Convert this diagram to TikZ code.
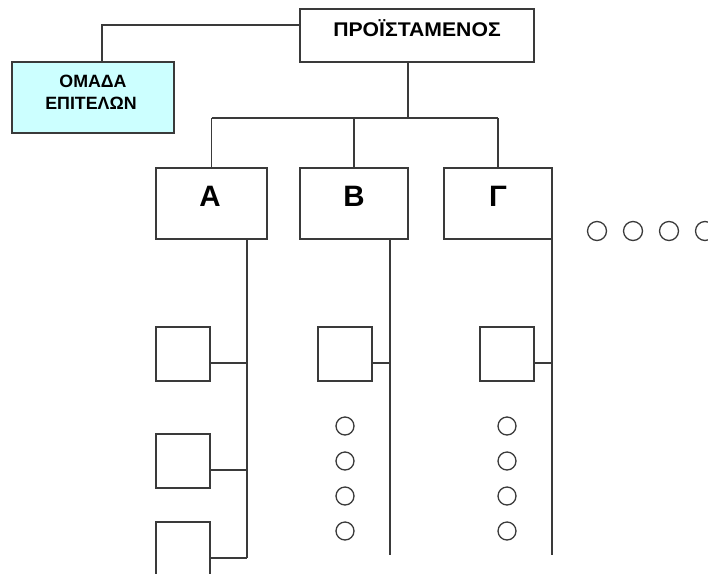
\documentclass[tikz,border=0pt]{standalone}
\usepackage{fontspec}
\setmainfont{Liberation Sans}
\newfontfamily\titlefont[FakeStretch=1.07]{Liberation Sans}
\definecolor{linec}{HTML}{3A3A3A}
\definecolor{cyanfill}{HTML}{CCFFFF}
\begin{document}
\begin{tikzpicture}[x=1pt,y=-1pt,
  ln/.style={draw=linec, line width=1.3pt},
  box/.style={ln, rectangle, inner sep=0pt, outer sep=0pt, anchor=north west, fill=white},
  dotc/.style={ln, circle, inner sep=0pt, outer sep=0pt, minimum size=18pt},
  lbl/.style={anchor=base, inner sep=0pt, text=black}]
\useasboundingbox (0,0) rectangle (708,573);
\fill[white] (0,0) rectangle (708,573);
\clip (0,0) rectangle (708,573);

% main boxes
\node[box, minimum width=234pt, minimum height=53pt] (top) at (300,9) {};
\node[box, fill=cyanfill, minimum width=162pt, minimum height=71pt] (omada) at (12,62) {};
\node[box, minimum width=111pt, minimum height=71pt] (A) at (156,168) {};
\node[box, minimum width=108pt, minimum height=71pt] (B) at (300,168) {};
\node[box, minimum width=108pt, minimum height=71pt] (G) at (444,168) {};

% texts
\node[lbl, font=\titlefont\bfseries\fontsize{19.8}{23}\selectfont] (ttop) at (417,36) {ΠΡΟΪΣΤΑΜΕΝΟΣ};
\node[lbl, font=\bfseries\fontsize{17.8}{21}\selectfont] (tom1) at (93,87) {ΟΜΑΔΑ};
\node[lbl, font=\bfseries\fontsize{17.8}{21}\selectfont] (tom2) at (91,109) {ΕΠΙΤΕΛΩΝ};
\node[lbl, font=\bfseries\fontsize{29.5}{34}\selectfont] (tA) at (210,206) {Α};
\node[lbl, font=\bfseries\fontsize{29.5}{34}\selectfont] (tB) at (354,206) {Β};
\node[lbl, font=\bfseries\fontsize{29.5}{34}\selectfont] (tG) at (498,206) {Γ};

% sub boxes
\node[box, minimum size=54pt] (a1) at (156,327) {};
\node[box, minimum size=54pt] (a2) at (156,434) {};
\node[box, minimum size=54pt] (a3) at (156,522) {};
\node[box, minimum size=54pt] (b1) at (318,327) {};
\node[box, minimum size=54pt] (g1) at (480,327) {};

% circles
\foreach \y [count=\i] in {426,461,496,531} {
  \node[dotc] (bc\i) at (345,\y) {};
  \node[dotc] (gc\i) at (507,\y) {};
}
\foreach \x [count=\i] in {597,633,669,705} {
  \node[dotc, minimum size=19pt] (rc\i) at (\x,231) {};
}

% coordinates
\coordinate (j0) at (102,25);
\coordinate (t0) at (408,62);
\coordinate (bus) at (408,118);
\coordinate (aTop) at (247,239);
\coordinate (aBot) at (247,558);
\coordinate (bTop) at (390,239);
\coordinate (bBot) at (390,555);
\coordinate (gBot) at (552,555);

% connectors
\draw[ln] (j0 -| top.west) -- (j0) -- (j0 |- omada.north);
\draw[ln] (t0) -- (bus);
\draw[ln] (A.north |- bus) -- (G.north |- bus);
\draw[ln] (A.north |- bus) -- (A.north);
\draw[ln] (B.north |- bus) -- (B.north);
\draw[ln] (G.north |- bus) -- (G.north);

\draw[ln] (aTop) -- (aBot);
\draw[ln] (bTop) -- (bBot);
\draw[ln] (G.south east) -- (gBot);

\draw[ln] ([yshift=-9pt]a1.east) coordinate (p1) -- (p1 -| aTop);
\draw[ln] ([yshift=-9pt]a2.east) coordinate (p2) -- (p2 -| aTop);
\draw[ln] ([yshift=-9pt]a3.east) coordinate (p3) -- (p3 -| aTop);
\draw[ln] ([yshift=-9pt]b1.east) coordinate (p4) -- (p4 -| bTop);
\draw[ln] ([yshift=-9pt]g1.east) coordinate (p5) -- (p5 -| gBot);
\end{tikzpicture}
\end{document}
